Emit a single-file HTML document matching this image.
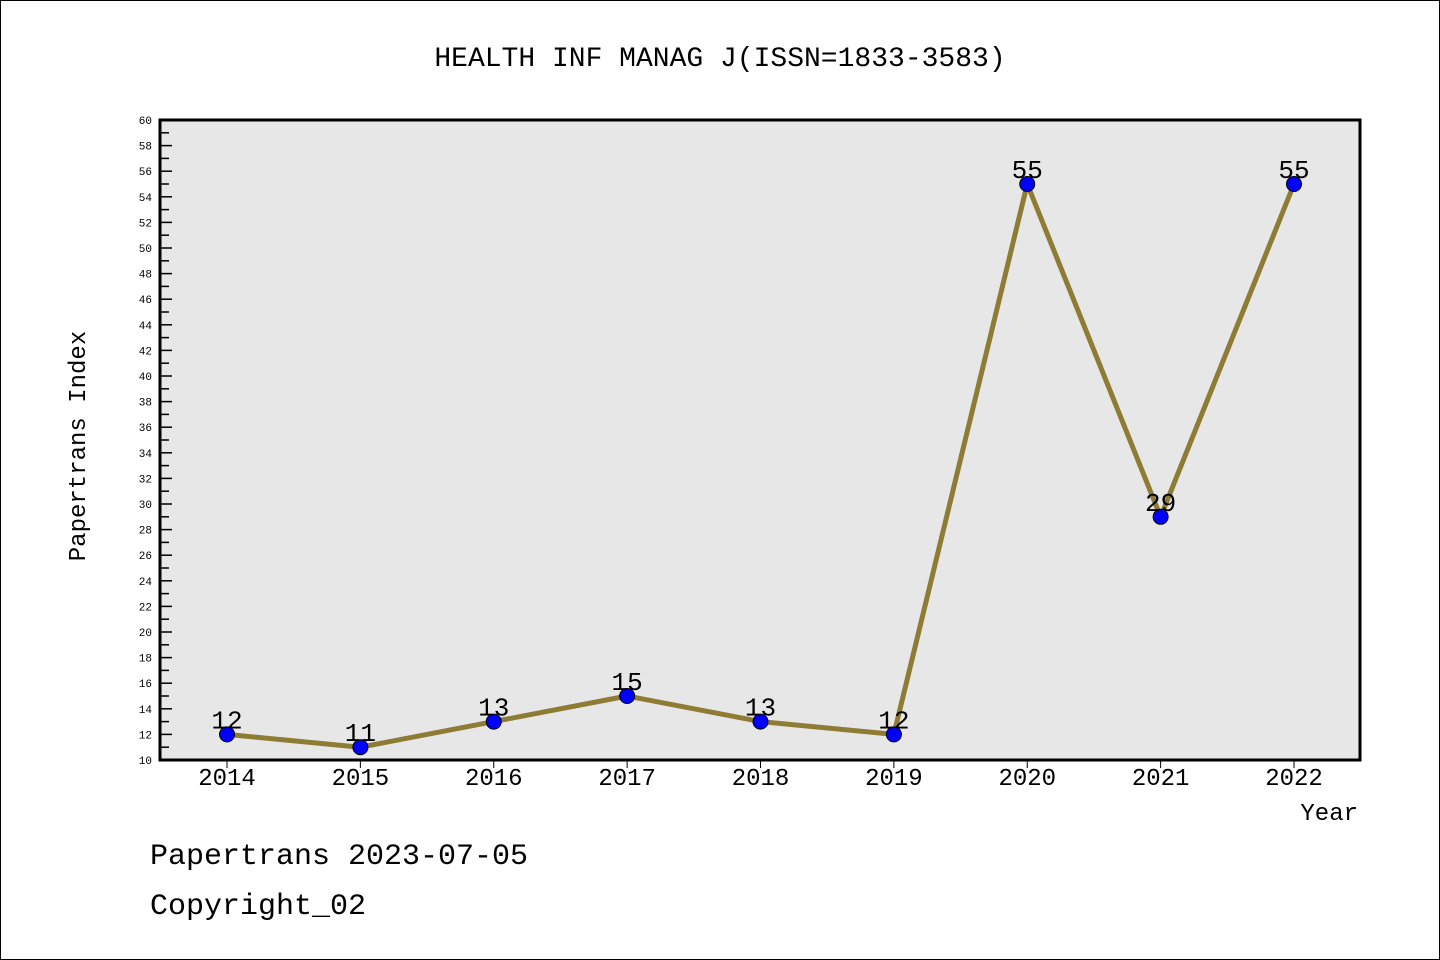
<!DOCTYPE html>
<html><head><meta charset="utf-8"><style>
body{margin:0;background:#fff}
svg{display:block}
text{font-family:"Liberation Mono","Noto Sans CJK SC",monospace}
</style></head><body>
<svg id="c" width="1440" height="960" xmlns="http://www.w3.org/2000/svg">
<rect x="0.5" y="0.5" width="1439" height="959" fill="#fff" stroke="#000"/>
<text x="720" y="66" text-anchor="middle" font-size="28">HEALTH INF MANAG J(ISSN=1833-3583)</text>
<rect x="160" y="120" width="1200" height="640" fill="#e7e7e7" stroke="#000" stroke-width="3"/>
<text transform="translate(85,446) rotate(-90)" text-anchor="middle" font-size="24">Papertrans Index</text>
<text x="1358" y="820" text-anchor="end" font-size="24">Year</text>
<text x="150" y="864" font-size="30">Papertrans 2023-07-05</text>
<text x="150" y="914" font-size="30">Copyright_02</text>
<g id="g"></g>
</svg>
<script>
const years=["2014","2015","2016","2017","2018","2019","2020","2021","2022"];
const values=[12,11,13,15,13,12,55,29,55];
const yMin=10,yMax=60;
const NS="http://www.w3.org/2000/svg";
const g=document.getElementById('g');
function X(i){return 227+i*(1294-227)/(years.length-1);}
function Y(v){return 760-(v-yMin)*(640/(yMax-yMin));}
function mk(t,a){const e=document.createElementNS(NS,t);for(const k in a)e.setAttribute(k,a[k]);g.appendChild(e);return e;}
for(let v=yMin;v<=yMax;v++){
  const major=v%2===0;
  const t=mk('line',{x1:160,x2:160+(major?12:9),y1:Y(v),y2:Y(v),stroke:'#000','stroke-width':1.5});
  
  
  if(major){
    const l=mk('text',{x:152,y:Y(v)+4,'text-anchor':'end','font-size':11,'font-family':'Liberation Sans, sans-serif'});
    l.textContent=v;
    
    
  }
}
years.forEach((y,i)=>{
  const t=mk('line',{x1:X(i),x2:X(i),y1:761,y2:768,stroke:'#000','stroke-width':1});
  
  
  const l=mk('text',{x:X(i),y:785,'text-anchor':'middle','font-size':24,'font-family':'Liberation Sans, sans-serif'});
  l.textContent=y;
  
  
});
const pl=mk('polyline',{points:values.map((v,i)=>X(i)+','+Y(v)).join(' '),fill:'none',stroke:'#8e7b34','stroke-width':5,'stroke-linejoin':'round'});


values.forEach((v,i)=>{
  const c=mk('circle',{cx:X(i),cy:Y(v),r:7.5,fill:'#0000ff',stroke:'#000','stroke-width':1});
  
  
  const l=mk('text',{x:X(i),y:Y(v)-6,'text-anchor':'middle','font-size':26,'font-family':'Liberation Sans, sans-serif'});
  l.textContent=v;
  
  
});
</script>
</body></html>
